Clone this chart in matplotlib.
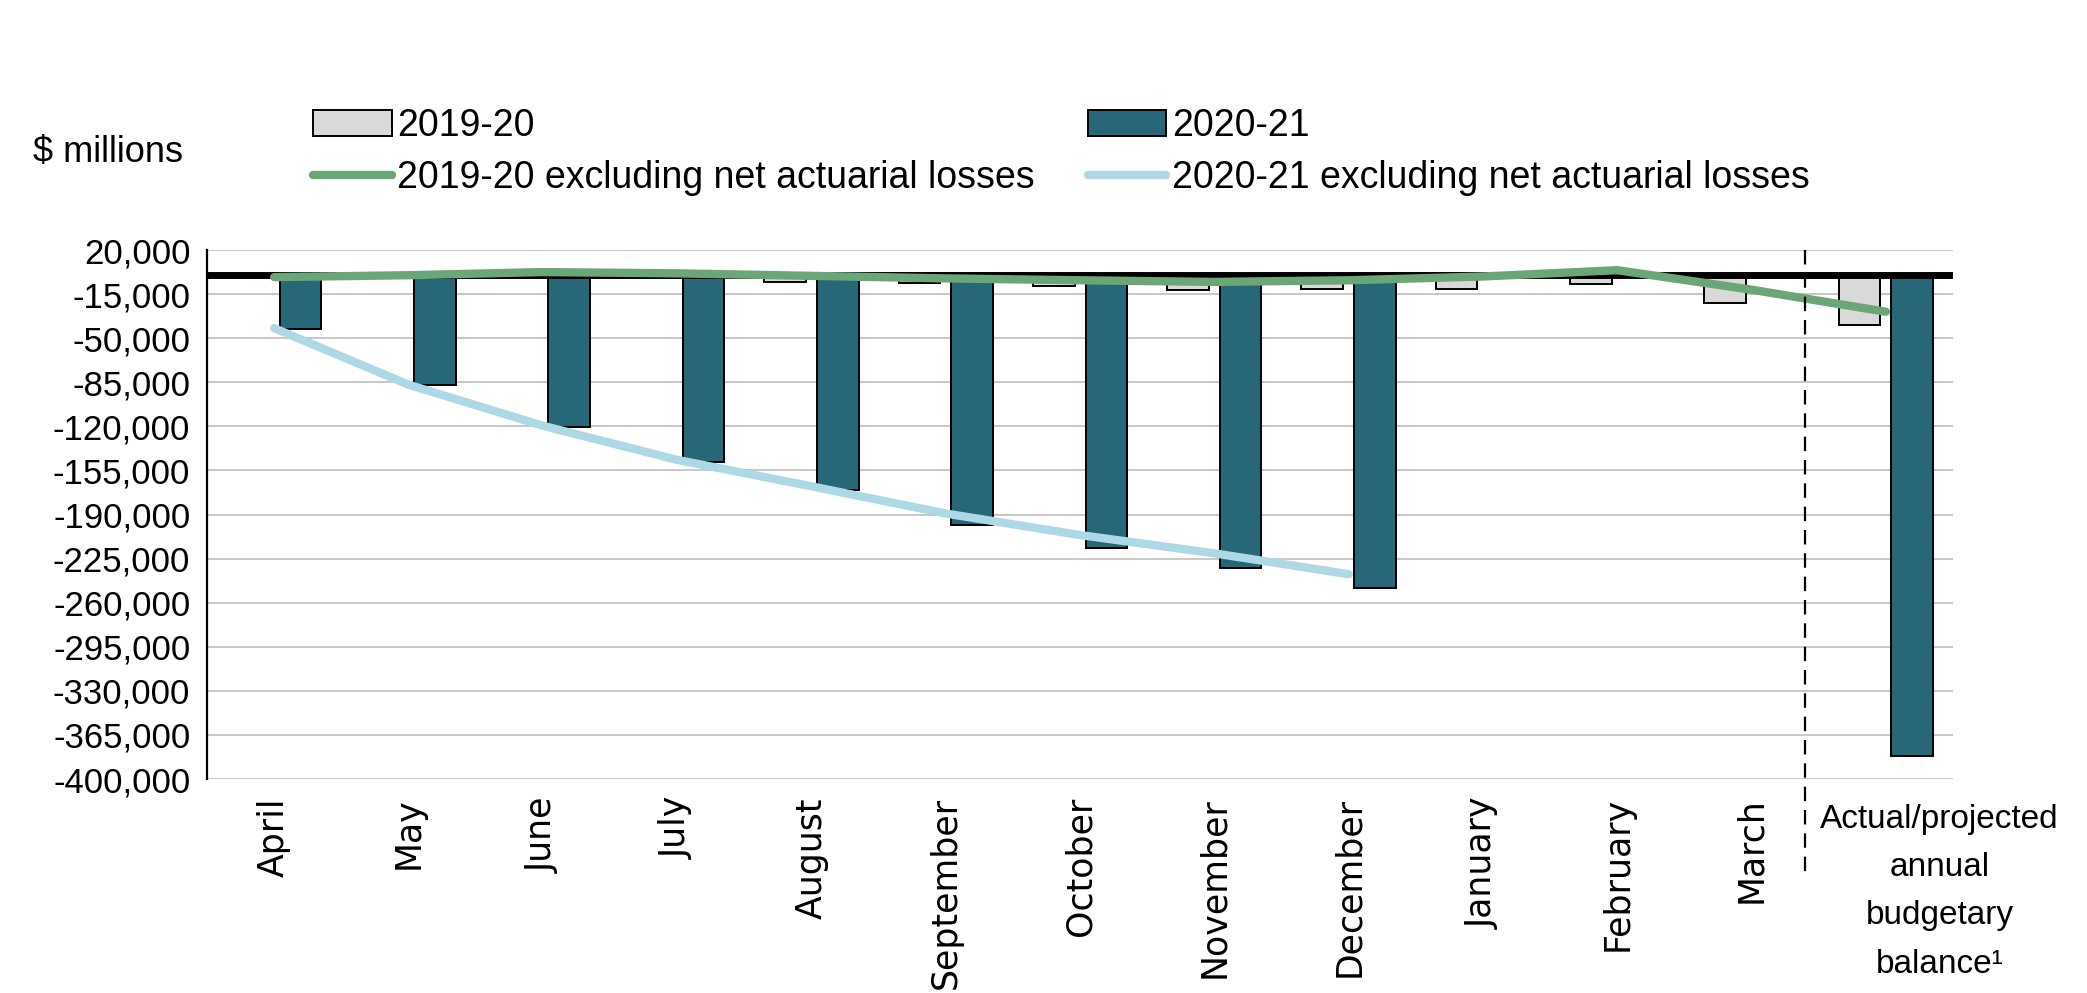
import matplotlib
matplotlib.use("Agg")
import matplotlib.pyplot as plt
import matplotlib.transforms as mtransforms
import numpy as np

months = ["April", "May", "June", "July", "August", "September", "October",
          "November", "December", "January", "February", "March"]
annual_label = "Actual/projected\nannual\nbudgetary\nbalance\u00b9"

# cumulative budgetary balance, $ millions (last value = annual)
bal_1920 = [-1000, -1500, 500, -1000, -5200, -6100, -8800, -11800, -11000,
            -10700, -7300, -22000, -39400]
bal_2021 = [-42800, -87100, -120800, -148400, -170800, -198400, -216800,
            -232400, -248700, np.nan, np.nan, np.nan, -381600]
excl_1920 = [-1500, 0, 2500, 1500, -500, -2500, -4000, -5300, -4000, -1000,
             4000, -11500, -29000]
excl_2021 = [-42000, -86900, -119500, -146600, -167600, -189200, -206300,
             -220800, -237400, np.nan, np.nan, np.nan, np.nan]

yticks = np.arange(20000, -400001, -35000)

C_GRAY = "#D9D9D9"
C_DARK = "#286778"
C_GREEN = "#6AA677"
C_LBLUE = "#ADD8E6"
FONT = ["Liberation Sans", "DejaVu Sans"]

plt.rcParams["font.family"] = FONT

fig = plt.figure(figsize=(20.87, 9.93), dpi=100)
ax = fig.add_axes([0.0992, 0.2155, 0.8366, 0.5327])

x = np.arange(len(bal_1920))
w = 0.31
off = 0.196

ax.bar(x - off, bal_1920, w, color=C_GRAY, edgecolor="black", linewidth=1.4,
       zorder=2, label="2019-20")
ax.bar(x + off, bal_2021, w, color=C_DARK, edgecolor="black", linewidth=1.4,
       zorder=2, label="2020-21")
ax.axhline(0, color="black", linewidth=5, zorder=3)
ax.plot(x, excl_1920, color=C_GREEN, linewidth=6, solid_capstyle="round",
        zorder=4, label="2019-20 excluding net actuarial losses")
ax.plot(x, excl_2021, color=C_LBLUE, linewidth=6, solid_capstyle="round",
        zorder=4, label="2020-21 excluding net actuarial losses")

# separator between months and annual figure
trans = mtransforms.blended_transform_factory(ax.transData, ax.transAxes)
ax.plot([11.4, 11.4], [1.0, -0.178], transform=trans, color="black",
        linewidth=1.6, linestyle=(0, (6.5, 4)), clip_on=False, zorder=5)

ax.set_xlim(-0.5, 12.5)
ax.set_ylim(-400000, 20000)
ax.set_yticks(yticks)
ax.set_yticklabels([f"{v:,}" for v in yticks], fontsize=25)
ax.yaxis.grid(True, color="#BFBFBF", linewidth=1.2, zorder=0)
ax.set_axisbelow(True)
ax.tick_params(axis="y", length=0, pad=12)

ax.set_xticks(x[:12])
ax.set_xticklabels(months, rotation=90, fontsize=25, family=["DejaVu Sans"])
ax.tick_params(axis="x", length=0, pad=13)

ax.text(12.4, -0.047, annual_label, transform=trans, ha="center", va="top",
        fontsize=24, linespacing=1.72)

for s in ["top", "right", "bottom"]:
    ax.spines[s].set_visible(False)
ax.spines["left"].set_linewidth(1.6)
ax.spines["left"].set_zorder(5)

fig.text(33 / 2087, 1 - 153 / 993, "$ millions", fontsize=26, va="center",
         ha="left")

h, l = ax.get_legend_handles_labels()
order = [l.index("2019-20"), l.index("2019-20 excluding net actuarial losses"),
         l.index("2020-21"), l.index("2020-21 excluding net actuarial losses")]
fig.legend([h[i] for i in order], [l[i] for i in order], ncol=2,
           loc="upper left", bbox_to_anchor=(313 / 2087, 1 - 108 / 993),
           frameon=False, fontsize=27, handlelength=2.1, handletextpad=0.15,
           columnspacing=1.4, labelspacing=0.42, borderpad=0,
           borderaxespad=0)

fig.savefig("out.png", dpi=100)
